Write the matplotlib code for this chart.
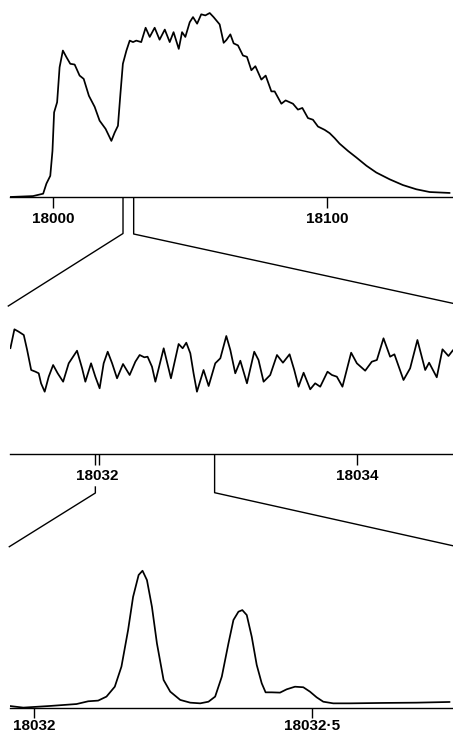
# Three-stage zoom of a spectrum (coarse -> fine -> finest)

import numpy as np
import matplotlib.pyplot as plt
from matplotlib.ticker import FixedLocator

plt.rcParams['font.family'] = ['Liberation Sans', 'DejaVu Sans']

# --- top panel: whole band, wavenumber vs intensity
top_x = [17984.2, 17992.7, 17996.4, 17997.6, 17999.0, 17999.8, 18000.4, 18001.5, 18002.4,
         18003.6, 18004.9, 18006.3, 18007.9, 18009.7, 18011.2, 18013.1, 18015.2, 18017.0,
         18019.2, 18021.3, 18022.5, 18023.7, 18024.6, 18025.5, 18026.8, 18028.0, 18029.2,
         18030.4, 18032.2, 18033.8, 18035.3, 18037.1, 18038.9, 18040.8, 18042.6, 18044.0,
         18045.9, 18047.1, 18048.3, 18049.9, 18051.1, 18052.6, 18054.1, 18055.6, 18057.2,
         18058.6, 18060.83, 18062.29, 18063.27, 18064.73, 18065.94, 18067.51, 18069.33,
         18070.79, 18072.40, 18073.86, 18076.05, 18077.62, 18079.70, 18080.90, 18083.35,
         18084.91, 18087.58, 18089.40, 18091.01, 18093.06, 18094.88, 18096.71, 18099.15,
         18100.97, 18102.80, 18104.6, 18107.7, 18110.7, 18114.4, 18118.0, 18122.9, 18127.7,
         18132.6, 18137.5, 18144.8]
top_y = [0.0, 0.5, 1.8, 7.3, 11.5, 25.0, 46.0, 51.5, 70.5,
         79.6, 76.0, 72.4, 72.0, 66.0, 64.2, 55.0, 49.0, 41.5,
         37.0, 30.5, 35.0, 38.7, 56.0, 72.4, 79.6, 85.0, 84.2,
         85.0, 84.2, 92.0, 87.0, 92.0, 85.5, 91.0, 84.2, 89.6,
         80.5, 89.6, 87.0, 95.0, 97.8, 94.2, 99.3, 98.7, 100.0,
         97.8, 93.8, 83.8, 85.3, 88.4, 83.5, 82.4, 76.9,
         76.2, 68.9, 71.1, 63.8, 66.0, 57.4, 57.4, 50.7,
         52.5, 50.7, 47.5, 48.4, 42.9, 42.0, 38.3, 36.5,
         34.7, 32.0, 29.0, 25.0, 21.5, 17.0, 13.3, 9.6, 6.5,
         4.2, 2.7, 2.2]
top_ticks = [18000, 18100]
top_zoom = [18025.55, 18029.44]

# --- middle panel
mid_x = [18031.333, 18031.364, 18031.397, 18031.436, 18031.462, 18031.493, 18031.526,
         18031.551, 18031.569, 18031.597, 18031.628, 18031.662, 18031.697, 18031.739,
         18031.782, 18031.846, 18031.885, 18031.910, 18031.954, 18031.987, 18032.020,
         18032.051, 18032.082, 18032.116, 18032.154, 18032.200, 18032.251, 18032.295,
         18032.328, 18032.364, 18032.389, 18032.423, 18032.449, 18032.513, 18032.569,
         18032.628, 18032.659, 18032.687, 18032.718, 18032.743, 18032.769, 18032.820,
         18032.859, 18032.910, 18032.949, 18032.995, 18033.026, 18033.064, 18033.103,
         18033.154, 18033.210, 18033.243, 18033.282, 18033.333, 18033.385, 18033.431,
         18033.482, 18033.518, 18033.551, 18033.590, 18033.641, 18033.679, 18033.718,
         18033.774, 18033.808, 18033.846, 18033.889, 18033.956, 18034.000, 18034.064,
         18034.115, 18034.154, 18034.205, 18034.256, 18034.289, 18034.359, 18034.410,
         18034.466, 18034.526, 18034.556, 18034.615, 18034.659, 18034.705, 18034.741]
mid_y = [105.7, 124.7, 122.3, 119.0, 104.0, 84.0, 82.3,
         80.7, 70.7, 62.3, 77.3, 89.0, 80.7, 72.3,
         90.7, 103.3, 85.7, 72.3, 90.7, 77.3, 65.7,
         90.7, 102.3, 90.7, 75.7, 90.0, 79.0, 92.3,
         99.0, 96.7, 97.3, 87.3, 72.3, 105.7, 75.7,
         110.0, 105.7, 111.3, 100.7, 80.7, 62.3, 84.0,
         68.0, 90.7, 95.7, 118.0, 104.0, 80.7, 93.3,
         70.7, 102.3, 94.0, 72.3, 79.0, 99.0, 91.3,
         99.7, 84.0, 67.3, 81.3, 64.7, 70.7, 67.3,
         82.3, 79.0, 77.3, 67.3, 101.3, 90.7, 83.3,
         92.3, 94.0, 115.7, 97.3, 99.7, 74.0, 85.7,
         114.0, 84.0, 91.3, 76.7, 104.7, 98.0, 104.0]
mid_ticks = [18032, 18034]
mid_marks = [18031.987, 18032.013]
mid_zoom = [18031.987, 18032.905]

# --- bottom panel
bot_x = [18031.955, 18031.980, 18032.028, 18032.076, 18032.097, 18032.115, 18032.130,
         18032.145, 18032.157, 18032.169, 18032.178, 18032.188, 18032.195, 18032.203,
         18032.212, 18032.221, 18032.233, 18032.245, 18032.263, 18032.281, 18032.299,
         18032.314, 18032.326, 18032.338, 18032.350, 18032.359, 18032.368, 18032.375,
         18032.383, 18032.392, 18032.401, 18032.410, 18032.417, 18032.428, 18032.443,
         18032.455, 18032.470, 18032.485, 18032.497, 18032.509, 18032.521, 18032.539,
         18032.569, 18032.629, 18032.689, 18032.749]
bot_y = [1.7, 0.5, 1.7, 3.1, 5.1, 5.6, 8.5,
         15.7, 30.3, 56.9, 81.0, 96.9, 100.0, 93.2,
         73.8, 47.2, 20.6, 12.1, 6.1, 4.1, 3.6,
         4.8, 8.5, 23.0, 47.2, 64.2, 70.2, 71.4,
         67.8, 52.0, 31.5, 18.2, 11.6, 11.6, 11.4,
         13.8, 15.7, 15.3, 12.1, 8.0, 4.8, 3.6,
         3.6, 3.9, 4.1, 4.6]
bot_ticks = [18032, 18032.5]
bot_labels = ['18032', '18032·5']

W, H = 453, 736
fig = plt.figure(figsize=(W / 100, H / 100), dpi=100)


def make_ax(top, bottom, xlim, ylim):
    ax = fig.add_axes([10 / W, 1 - bottom / H, 443 / W, (bottom - top) / H])
    ax.set_xlim(*xlim)
    ax.set_ylim(*ylim)
    for s in ['left', 'right', 'top']:
        ax.spines[s].set_visible(False)
    ax.spines['bottom'].set_linewidth(1.0)
    ax.set_yticks([])
    ax.tick_params(axis='x', direction='out', length=8, width=1.0, pad=3,
                   labelsize=11)
    return ax


line = dict(color='black', lw=1.25, solid_joinstyle='round', solid_capstyle='round')

ax1 = make_ax(4, 197, (17984.3, 18146.0), (0, 104.9))
ax1.plot(top_x, top_y, **line)
ax1.set_xticks(top_ticks)
ax1.set_xticklabels([str(t) for t in top_ticks], fontweight='bold')

ax2 = make_ax(325, 454, (18031.33, 18034.74), (0, 129))
ax2.plot(mid_x, mid_y, **line)
ax2.set_xticks(mid_ticks)
ax2.set_xticklabels([str(t) for t in mid_ticks], fontweight='bold')
ax2.xaxis.get_major_ticks()[0].tick1line.set_visible(False)
ax2.xaxis.set_minor_locator(FixedLocator(mid_marks))
ax2.tick_params(axis='x', which='minor', length=8, width=1.0)

ax3 = make_ax(560, 708.3, (18031.956, 18032.755), (0, 107.8))
ax3.plot(bot_x, bot_y, **line)
ax3.set_xticks(bot_ticks)
ax3.set_xticklabels(bot_labels, fontweight='bold')
ax3.tick_params(axis='x', length=7, pad=1)

# overlay in pixel units for the zoom brackets
ov = fig.add_axes([0, 0, 1, 1], zorder=-1)
ov.set_xlim(0, W)
ov.set_ylim(H, 0)
ov.axis('off')


def px(ax, x):
    return ax.transData.transform((x, 0))[0]


a, b = px(ax1, top_zoom[0]), px(ax1, top_zoom[1])
ov.plot([a, a, 8.3], [197, 233.5, 306], color='black', lw=1.0)
ov.plot([b, b, 452.7], [197, 234, 303.3], color='black', lw=1.0)

a, b = px(ax2, mid_zoom[0]), px(ax2, mid_zoom[1])
ov.plot([a, a, 9.3], [487, 493, 546.7], color='black', lw=1.0)
ov.plot([b, b, 452.7], [454, 492.7, 545.7], color='black', lw=1.0)

fig.savefig('out.png', dpi=100)
